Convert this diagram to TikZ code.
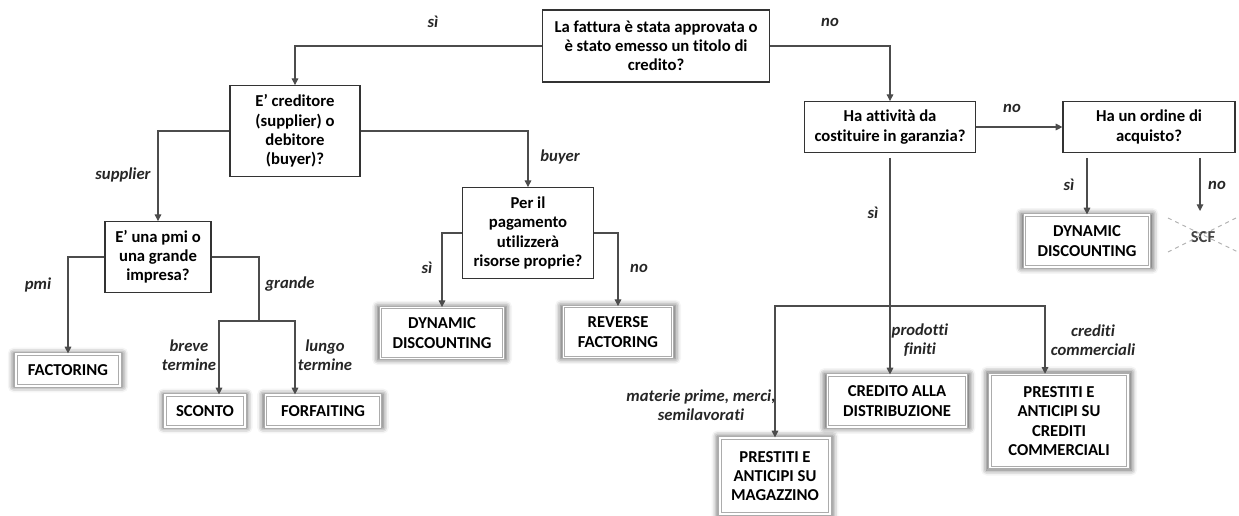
\documentclass[tikz,border=0pt]{standalone}
\usepackage{fontspec}
\setmainfont[Ligatures=NoCommon]{Carlito}
\usetikzlibrary{arrows.meta,calc,shadows.blur}
\begin{document}
\begin{tikzpicture}[x=0.75pt,y=-0.75pt,
  font=\fontsize{12.5}{14.4}\selectfont\bfseries,
  q/.style={draw=black!80, line width=0.9pt, fill=white, align=center, inner sep=1pt},
  term/.style={draw=gray!65, line width=0.9pt, double=white, double distance=0.9pt, fill=white, align=center, inner sep=1pt,
    blur shadow={shadow xshift=0pt, shadow yshift=0pt, shadow blur radius=4pt, shadow opacity=65, shadow scale=1.05}},
  lab/.style={font=\fontsize{12.5}{14.4}\selectfont\bfseries\itshape, align=center, text=black!85},
  conn/.style={draw=black!70, line width=0.8pt},
  arr/.style={conn, -{Triangle[length=5pt,width=5pt]}}
]
\useasboundingbox (0,0) rectangle (1239,516);
% question boxes
\node[q, minimum width=170pt, minimum height=54pt] (q1) at (656,46) {La fattura è stata approvata o\\è stato emesso un titolo di\\credito?};
\node[q, minimum width=97.5pt, minimum height=68pt] (q2) at (295,131) {E’ creditore\\(supplier) o\\debitore\\(buyer)?};
\node[q, minimum width=79.5pt, minimum height=53pt] (q3) at (158,257) {E’ una pmi o\\una grande\\impresa?};
\node[q, minimum width=98pt, minimum height=68pt] (q4) at (528,233) {Per il\\pagamento\\utilizzerà\\risorse proprie?};
\node[q, minimum width=128pt, minimum height=38pt] (q5) at (890,127) {Ha attività da\\costituire in garanzia?};
\node[q, minimum width=129pt, minimum height=38pt] (q6) at (1149,127) {Ha un ordine di\\acquisto?};
% terminal boxes
\node[term, minimum width=78pt, minimum height=24pt] (fact) at (68,370) {FACTORING};
\node[term, minimum width=60pt, minimum height=24pt] (sconto) at (205,411) {SCONTO};
\node[term, minimum width=86pt, minimum height=24pt] (forf) at (323,411) {FORFAITING};
\node[term, minimum width=92pt, minimum height=38pt] (dyn1) at (442,333) {DYNAMIC\\DISCOUNTING};
\node[term, minimum width=82pt, minimum height=38pt] (rev) at (618,332) {REVERSE\\FACTORING};
\node[term, minimum width=94pt, minimum height=39pt] (dyn2) at (1087,241) {DYNAMIC\\DISCOUNTING};
\node[term, minimum width=104pt, minimum height=39pt] (cred) at (897,401) {CREDITO ALLA\\DISTRIBUZIONE};
\node[term, minimum width=103.5pt, minimum height=70pt] (crc) at (1059,421) {PRESTITI E\\ANTICIPI SU\\CREDITI\\COMMERCIALI};
\node[term, minimum width=82.5pt, minimum height=57pt] (mag) at (775,476) {PRESTITI E\\ANTICIPI SU\\MAGAZZINO};
% SCF crossed out
\node[text=black!75] (scf) at (1203,237) {SCF};
\draw[gray!60, dashed, line width=0.7pt] (1168,218) -- (1238,252) (1168,252) -- (1238,217);
% junction coordinates
\coordinate (jg) at (259,321);
\coordinate (jb) at (890,306);
\coordinate (scftop) at (1200,211);
% connectors
\draw[arr] (q1.west) -| (q2.north);
\draw[arr] (q1.east) -| (q5.north);
\draw[arr] (q2.west) -| (q3.north);
\draw[arr] (q2.east) -| (q4.north);
\draw[arr] (q3.west) -| (fact.north);
\draw[conn] (q3.east) -| (jg);
\draw[arr] (jg) -| ($(sconto.north)+(14,0)$);
\draw[arr] (jg) -| ($(forf.north)+(-28,0)$);
\draw[arr] (q4.west) -| (dyn1.north);
\draw[arr] (q4.east) -| (rev.north);
\draw[arr] (q5.east) -- (q6.west);
\draw[arr] ($(q6.south -| dyn2.north)+(0,5)$) -- (dyn2.north);
\draw[arr] (scftop |- {$(q6.south)+(0,5)$}) -- (scftop);
\draw[conn] ($(q5.south)+(0,5)$) -- (jb);
\draw[arr] (jb) -- (jb |- cred.north);
\draw[arr] (jb) -| (mag.north);
\draw[arr] (jb) -| ($(crc.north)+(-14,0)$);
% labels
\node[lab] at (433,22) {sì};
\node[lab] at (830,22) {no};
\node[lab] at (123,175) {supplier};
\node[lab] at (560,157) {buyer};
\node[lab] at (38,285) {pmi};
\node[lab] at (290,284) {grande};
\node[lab] at (189,355) {breve\\termine};
\node[lab] at (325,355) {lungo\\termine};
\node[lab] at (427,268) {sì};
\node[lab] at (639,268) {no};
\node[lab] at (1012,108) {no};
\node[lab] at (1069,185) {sì};
\node[lab] at (1217,185) {no};
\node[lab] at (873,213) {sì};
\node[lab] at (920,340) {prodotti\\finiti};
\node[lab] at (1093,340) {crediti\\commerciali};
\node[lab] at (701,405) {materie prime, merci,\\semilavorati};
\end{tikzpicture}
\end{document}
